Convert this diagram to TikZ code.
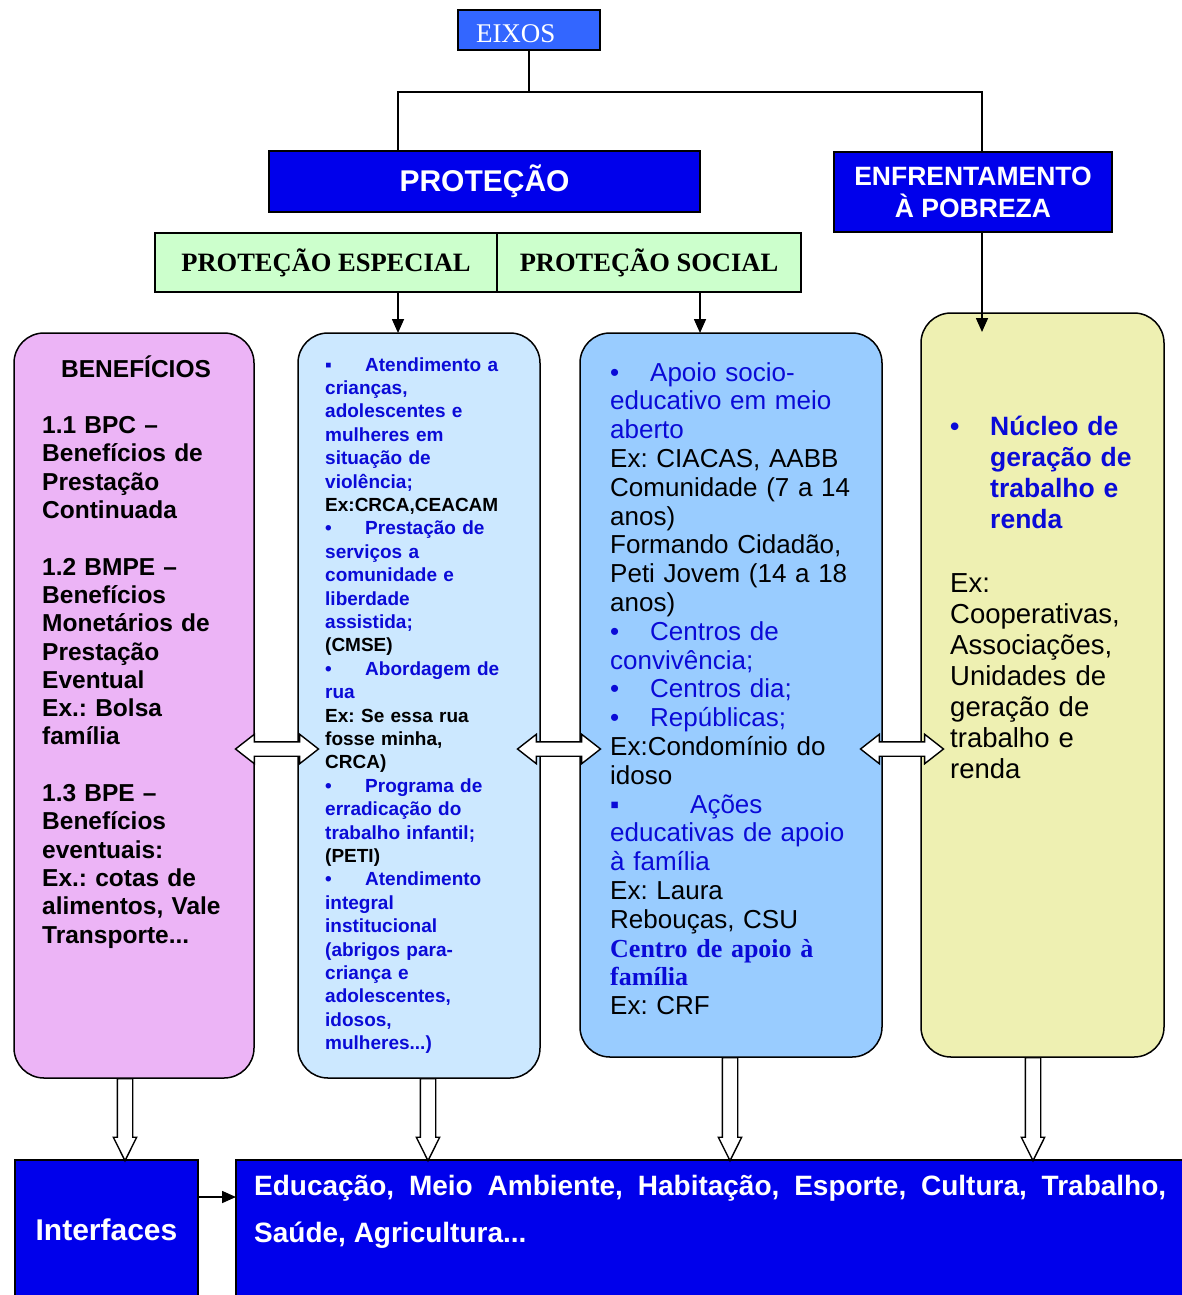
\documentclass[tikz,border=0pt]{standalone}
\usepackage{fontspec}
\setmainfont{Liberation Sans}
\newfontfamily\serifa{Liberation Serif}
\usetikzlibrary{arrows.meta}
\usetikzlibrary{positioning}
\usetikzlibrary{shapes.arrows}
\frenchspacing

\definecolor{azuleixos}{RGB}{51,102,255}
\definecolor{azulforte}{RGB}{0,0,235}
\definecolor{verdeclaro}{RGB}{204,255,204}
\definecolor{rosa}{RGB}{236,180,246}
\definecolor{azulclaro}{RGB}{204,232,255}
\definecolor{azulmedio}{RGB}{153,204,255}
\definecolor{amarelo}{RGB}{238,240,178}
\definecolor{textoazul}{RGB}{10,10,215}

\begin{document}
\begin{tikzpicture}[x=1pt,y=-1pt,
    caixa/.style={draw=black,line width=1.5pt,inner sep=0pt,outer sep=0pt,anchor=north west},
    coluna/.style={caixa,rounded corners=30pt},
    texto/.style={inner sep=0pt,anchor=base west,align=left},
    linha/.style={line width=1.6pt},
    seta/.style={line width=1.6pt,-{Triangle[length=14pt,width=12pt]}},
    setadupla/.style={double arrow,draw=black,fill=white,line width=1.4pt,
        minimum height=83pt,minimum width=28pt,double arrow head extend=7.5pt,
        double arrow tip angle=76,inner xsep=0pt,inner ysep=6.5pt},
    setabaixo/.style={single arrow,draw=black,fill=white,line width=1.4pt,
        minimum width=22pt,single arrow head extend=4pt,
        single arrow tip angle=53,inner xsep=0pt,inner ysep=7pt,rotate=-90,anchor=tail}]
    \useasboundingbox (0,0) rectangle (1182,1295);

    % Eixos e niveis de cima
    \node[caixa,fill=azuleixos,minimum width=142pt,minimum height=40pt,
        text width=106pt,inner xsep=18pt,align=left,text height=26pt,text depth=0pt,
        font=\serifa\fontsize{27}{30}\selectfont,text=white] (eixos) at (458,10) {EIXOS};
    \node[caixa,fill=azulforte,minimum width=431pt,minimum height=61pt,
        font=\fontsize{30}{36}\selectfont\bfseries,text=white] (protecao) at (269,151) {PROTEÇÃO};
    \node[caixa,fill=azulforte,minimum width=278pt,minimum height=80pt,align=center,
        font=\fontsize{26.5}{32}\selectfont\bfseries,text=white] (enfrent) at (834,152) {ENFRENTAMENTO\\À POBREZA};
    \node[caixa,fill=verdeclaro,minimum width=342pt,minimum height=59pt,
        font=\serifa\fontsize{26.5}{30}\selectfont\bfseries] (pesp) at (155,233) {PROTEÇÃO ESPECIAL};
    \node[caixa,fill=verdeclaro,minimum width=304pt,minimum height=59pt,
        font=\serifa\fontsize{26.5}{30}\selectfont\bfseries] (psoc) at (497,233) {PROTEÇÃO SOCIAL};

    \draw[linha] (eixos.south) -- ++(0,42) coordinate (juncao);
    \draw[linha] (juncao) -| ([xshift=-86.5pt]protecao.north);
    \draw[linha] (juncao) -| ([xshift=9pt]enfrent.north);

    % As quatro colunas
    \node[coluna,fill=rosa,minimum width=240pt,minimum height=745pt] (beneficios) at (14,333) {};
    \node[coluna,fill=azulclaro,minimum width=242pt,minimum height=745pt] (especial) at (298,333) {};
    \node[coluna,fill=azulmedio,minimum width=302pt,minimum height=724pt] (social) at (580,333) {};
    \node[coluna,fill=amarelo,minimum width=243pt,minimum height=744pt] (pobreza) at (921,313) {};

    \draw[seta] ([xshift=72pt]pesp.south) -- ([xshift=72pt]pesp.south |- especial.north);
    \draw[seta] ([xshift=51pt]psoc.south) -- ([xshift=51pt]psoc.south |- social.north);
    \draw[seta] ([xshift=9pt]enfrent.south) -- ++(0,100);

    \node[texto,text width=205pt,font=\fontsize{24.5}{28.3}\selectfont\bfseries] (txtbenef) at (42,377) {%
        \hspace*{19pt}BENEFÍCIOS\\[28.3pt]
        1.1 BPC –\\
        Benefícios de\\
        Prestação\\
        Continuada\\[28.3pt]
        1.2 BMPE –\\
        Benefícios\\
        Monetários de\\
        Prestação\\
        Eventual\\
        Ex.: Bolsa\\
        família\\[28.3pt]
        1.3 BPE –\\
        Benefícios\\
        eventuais:\\
        Ex.: cotas de\\
        alimentos, Vale\\
        Transporte...};

    \node[texto,text width=212pt,font=\fontsize{19}{23.4}\selectfont\bfseries] (txtespecial) at (325,371) {%
        \color{textoazul}\makebox[40pt][l]{▪}Atendimento a\\
        crianças,\\
        adolescentes e\\
        mulheres em\\
        situação de\\
        violência;\\
        \color{black}Ex:CRCA,CEACAM\\
        \color{textoazul}\makebox[40pt][l]{•}Prestação de\\
        serviços a\\
        comunidade e\\
        liberdade\\
        assistida;\\
        \color{black}(CMSE)\\
        \color{textoazul}\makebox[40pt][l]{•}Abordagem de\\
        rua\\
        \color{black}Ex: Se essa rua\\
        fosse minha,\\
        CRCA)\\
        \color{textoazul}\makebox[40pt][l]{•}Programa de\\
        erradicação do\\
        trabalho infantil;\\
        \color{black}(PETI)\\
        \color{textoazul}\makebox[40pt][l]{•}Atendimento\\
        integral\\
        institucional\\
        (abrigos para-\\
        criança e\\
        adolescentes,\\
        idosos,\\
        mulheres...)};

    \node[texto,text width=280pt,font=\fontsize{26}{28.8}\selectfont] (txtsocial) at (610,381) {%
        \color{textoazul}\makebox[40pt][l]{•}Apoio socio-\\
        educativo em meio\\
        aberto\\
        \color{black}Ex: CIACAS, AABB\\
        Comunidade (7 a 14\\
        anos)\\
        Formando Cidadão,\\
        Peti Jovem (14 a 18\\
        anos)\\
        \color{textoazul}\makebox[40pt][l]{•}Centros de\\
        convivência;\\
        \makebox[40pt][l]{•}Centros dia;\\
        \makebox[40pt][l]{•}Repúblicas;\\
        \color{black}Ex:Condomínio do\\
        idoso\\
        \color{textoazul}\makebox[80pt][l]{▪}Ações\\
        educativas de apoio\\
        à família\\
        \color{black}Ex: Laura\\
        Rebouças, CSU\\
        \color{textoazul}{\serifa\bfseries Centro de apoio à}\\
        {\serifa\bfseries família}\\
        \color{black}Ex: CRF};

    \node[texto,text width=210pt,text=textoazul,font=\fontsize{26.5}{31}\selectfont\bfseries] (txtnucleo) at (950,435.5) {%
        \makebox[40pt][l]{•}Núcleo de\\
        \hspace*{40pt}geração de\\
        \hspace*{40pt}trabalho e\\
        \hspace*{40pt}renda};
    \node[texto,text width=210pt,font=\fontsize{27.5}{31}\selectfont] (txtexemplo) at (950,592) {%
        Ex:\\
        Cooperativas,\\
        Associações,\\
        Unidades de\\
        geração de\\
        trabalho e\\
        renda};

    % Setas brancas entre as colunas
    \node[setadupla] (seta12) at (277,749) {};
    \node[setadupla] (seta23) at (559,749) {};
    \node[setadupla] (seta34) at (902,749) {};

    % Interfaces
    \node[caixa,fill=azulforte,minimum width=183pt,minimum height=140pt,
        font=\fontsize{30}{36}\selectfont\bfseries,text=white] (interf) at (15,1160) {Interfaces};
    \node[caixa,fill=azulforte,minimum width=950pt,minimum height=140pt] (educ) at (236,1160) {};
    \node[texto,text width=912pt,align=justify,text=white,
        font=\fontsize{28}{47}\selectfont\bfseries] (txtareas) at (254,1195)
        {Educação, Meio Ambiente, Habitação, Esporte, Cultura, Trabalho, Saúde, Agricultura...};

    \draw[seta] ([yshift=33pt]interf.east) -- ([yshift=33pt]interf.east -| educ.west);

    \node[setabaixo,minimum height=82pt] (desce1) at ([xshift=-9pt]beneficios.south) {};
    \node[setabaixo,minimum height=82pt] (desce2) at ([xshift=9pt]especial.south) {};
    \node[setabaixo,minimum height=103pt] (desce3) at ([xshift=-1pt]social.south) {};
    \node[setabaixo,minimum height=103pt] (desce4) at ([xshift=-9.5pt]pobreza.south) {};
\end{tikzpicture}
\end{document}
